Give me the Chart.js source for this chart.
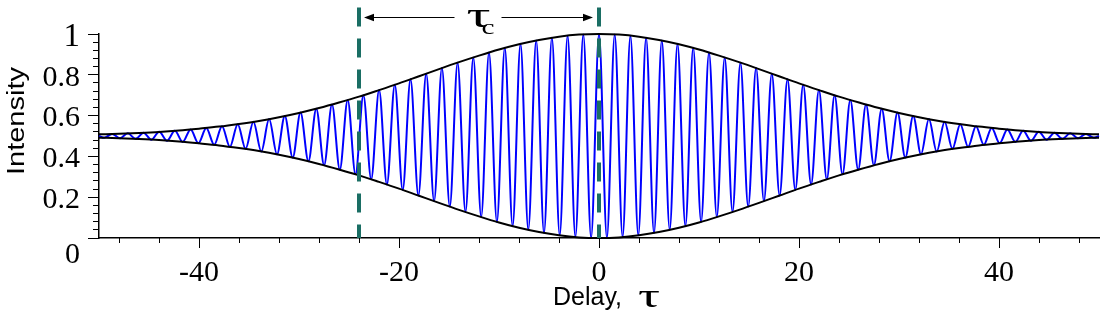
<!DOCTYPE html>
<html>
<head>
<meta charset="utf-8">
<script src="https://cdn.jsdelivr.net/npm/chart.js@4/dist/chart.umd.min.js"></script>
<style>
html,body{margin:0;padding:0;background:#fff;}
#wrap{width:1106px;height:320px;position:relative;}
</style>
</head>
<body>
<div id="wrap"><canvas id="c" width="1106" height="320"></canvas></div>
<script>
// ---- axis ticks ----
const delayTicksMajor = [-40, -20, 0, 20, 40];
const delayTickLabels = ['-40', '-20', '0', '20', '40'];
const delayTicksMinor = [-48, -44, -40, -36, -32, -28, -24, -20, -16, -12, -8, -4, 0, 4, 8, 12, 16, 20, 24, 28, 32, 36, 40, 44, 48];
const intensityTicksMajor = [0, 0.2, 0.4, 0.6, 0.8, 1];
const intensityTickLabels = ['0', '0.2', '0.4', '0.6', '0.8', '1'];
const intensityTicksMinor = [0, 0.04, 0.08, 0.12, 0.16, 0.2, 0.24, 0.28, 0.32, 0.36, 0.4, 0.44, 0.48, 0.52, 0.56, 0.6, 0.64, 0.68, 0.72, 0.76, 0.8, 0.84, 0.88, 0.92, 0.96, 1];

// ---- envelope (black) ----
const envelopeDelay = [-50, -48, -46, -44, -42, -40, -38, -36, -34, -32, -30, -28, -26, -24, -22, -20, -18, -16, -14, -12, -10, -8, -6, -4, -2, 0, 2, 4, 6, 8, 10, 12, 14, 16, 18, 20, 22, 24, 26, 28, 30, 32, 34, 36, 38, 40, 42, 44, 46, 48, 50];
const envelopeUpper = [0.508, 0.511, 0.515, 0.520, 0.527, 0.536, 0.546, 0.559, 0.574, 0.592, 0.613, 0.637, 0.664, 0.693, 0.725, 0.758, 0.793, 0.828, 0.862, 0.894, 0.924, 0.950, 0.971, 0.987, 0.997, 1.000, 0.997, 0.987, 0.971, 0.950, 0.924, 0.894, 0.862, 0.828, 0.793, 0.758, 0.725, 0.693, 0.664, 0.637, 0.613, 0.592, 0.574, 0.559, 0.546, 0.536, 0.527, 0.520, 0.515, 0.511, 0.508];
const envelopeLower = [0.492, 0.489, 0.485, 0.480, 0.473, 0.464, 0.454, 0.441, 0.426, 0.408, 0.387, 0.363, 0.336, 0.307, 0.275, 0.242, 0.207, 0.172, 0.138, 0.106, 0.076, 0.050, 0.029, 0.013, 0.003, 0.000, 0.003, 0.013, 0.029, 0.050, 0.076, 0.106, 0.138, 0.172, 0.207, 0.242, 0.275, 0.307, 0.336, 0.363, 0.387, 0.408, 0.426, 0.441, 0.454, 0.464, 0.473, 0.480, 0.485, 0.489, 0.492];

// ---- fringes (blue): delay and intensity at each maximum / minimum ----
const fringeDelay = [-50, -49.48, -48.69, -47.91, -47.12, -46.34, -45.55, -44.77, -43.98, -43.20, -42.41, -41.63, -40.84, -40.06, -39.27, -38.48, -37.70, -36.91, -36.13, -35.34, -34.56, -33.77, -32.99, -32.20, -31.42, -30.63, -29.85, -29.06, -28.27, -27.49, -26.70, -25.92, -25.13, -24.35, -23.56, -22.78, -21.99, -21.21, -20.42, -19.63, -18.85, -18.06, -17.28, -16.49, -15.71, -14.92, -14.14, -13.35, -12.57, -11.78, -11.00, -10.21, -9.42, -8.64, -7.85, -7.07, -6.28, -5.50, -4.71, -3.93, -3.14, -2.36, -1.57, -0.79, 0, 0.79, 1.57, 2.36, 3.14, 3.93, 4.71, 5.50, 6.28, 7.07, 7.85, 8.64, 9.42, 10.21, 11.00, 11.78, 12.57, 13.35, 14.14, 14.92, 15.71, 16.49, 17.28, 18.06, 18.85, 19.63, 20.42, 21.21, 21.99, 22.78, 23.56, 24.35, 25.13, 25.92, 26.70, 27.49, 28.27, 29.06, 29.85, 30.63, 31.42, 32.20, 32.99, 33.77, 34.56, 35.34, 36.13, 36.91, 37.70, 38.48, 39.27, 40.06, 40.84, 41.63, 42.41, 43.20, 43.98, 44.77, 45.55, 46.34, 47.12, 47.91, 48.69, 49.48, 50];
const fringeIntensity = [0.500, 0.491, 0.510, 0.489, 0.513, 0.486, 0.516, 0.482, 0.521, 0.477, 0.526, 0.471, 0.532, 0.465, 0.539, 0.457, 0.548, 0.447, 0.558, 0.437, 0.570, 0.424, 0.583, 0.410, 0.598, 0.394, 0.615, 0.376, 0.634, 0.357, 0.654, 0.335, 0.676, 0.312, 0.700, 0.288, 0.725, 0.262, 0.751, 0.236, 0.778, 0.208, 0.805, 0.181, 0.833, 0.154, 0.859, 0.128, 0.885, 0.103, 0.909, 0.079, 0.932, 0.058, 0.952, 0.040, 0.968, 0.024, 0.982, 0.013, 0.992, 0.005, 0.998, 0.001,
  1.000,
  0.001, 0.998, 0.005, 0.992, 0.013, 0.982, 0.024, 0.968, 0.040, 0.952, 0.058, 0.932, 0.079, 0.909, 0.103, 0.885, 0.128, 0.859, 0.154, 0.833, 0.181, 0.805, 0.208, 0.778, 0.236, 0.751, 0.262, 0.725, 0.288, 0.700, 0.312, 0.676, 0.335, 0.654, 0.357, 0.634, 0.376, 0.615, 0.394, 0.598, 0.410, 0.583, 0.424, 0.570, 0.437, 0.558, 0.447, 0.548, 0.457, 0.539, 0.465, 0.532, 0.471, 0.526, 0.477, 0.521, 0.482, 0.516, 0.486, 0.513, 0.489, 0.510, 0.491, 0.500];

// ---- coherence-time markers ----
const markerDelay = [-24, 0];
const markerSpan = [1.13, 0];
const arrowLevel = 1.083;

const pts = (xs, ys) => xs.map((v, i) => ({x: v, y: ys[i]}));

const TEAL = '#1a6e64';
const SANS = '"Liberation Sans", Arial, sans-serif';
const SERIF = '"Liberation Serif", "Times New Roman", serif';

function stretchedText(ctx, text, x, y, width, font) {
  ctx.save();
  ctx.font = font;
  const w = ctx.measureText(text).width;
  ctx.translate(x, y);
  ctx.scale(width / w, 1);
  ctx.textAlign = 'left';
  ctx.textBaseline = 'alphabetic';
  ctx.fillText(text, 0, 0);
  ctx.restore();
}

const overlay = {
  id: 'overlay',
  afterDraw(chart) {
    const {ctx, scales} = chart;
    const sx = scales.x, sy = scales.y;
    ctx.save();
    ctx.fillStyle = '#000';
    ctx.strokeStyle = '#000';
    // double arrow between the markers
    const xa = sx.getPixelForValue(markerDelay[0]) + 5;
    const xb = sx.getPixelForValue(markerDelay[1]) - 6;
    const ya = Math.round(sy.getPixelForValue(arrowLevel)) + 0.5;
    const mid = (xa + xb) / 2;
    ctx.lineWidth = 1.2;
    ctx.beginPath();
    ctx.moveTo(xa + 8, ya); ctx.lineTo(mid - 24, ya);
    ctx.moveTo(mid + 23, ya); ctx.lineTo(xb - 8, ya);
    ctx.stroke();
    ctx.beginPath();
    ctx.moveTo(xa, ya); ctx.lineTo(xa + 10, ya - 3.8); ctx.lineTo(xa + 10, ya + 3.8); ctx.closePath(); ctx.fill();
    ctx.beginPath();
    ctx.moveTo(xb, ya); ctx.lineTo(xb - 10, ya - 3.8); ctx.lineTo(xb - 10, ya + 3.8); ctx.closePath(); ctx.fill();
    // tau_c label
    stretchedText(ctx, 'τ', mid - 12, ya + 9, 24, '36px ' + SERIF);
    stretchedText(ctx, 'c', mid + 3, ya + 16, 13, '22px ' + SERIF);

    // y axis title
    ctx.save();
    ctx.font = '23px ' + SANS;
    const tw = ctx.measureText('Intensity').width;
    ctx.translate(18, 121);
    ctx.rotate(-Math.PI / 2);
    ctx.scale(108 / tw, 1);
    ctx.textAlign = 'center';
    ctx.textBaseline = 'middle';
    ctx.fillText('Intensity', 0, 0);
    ctx.restore();

    // x axis title
    ctx.font = '25px ' + SANS;
    ctx.textAlign = 'left';
    ctx.textBaseline = 'alphabetic';
    ctx.fillText('Delay, ', 553, 305);
    stretchedText(ctx, 'τ', 638, 307, 22, '33px ' + SERIF);
    ctx.restore();
  }
};

new Chart(document.getElementById('c').getContext('2d'), {
  type: 'line',
  data: {
    datasets: [
      {label: 'marker1', data: pts([markerDelay[0], markerDelay[0]], markerSpan), borderColor: TEAL, borderWidth: 4, borderDash: [19, 12], pointRadius: 0, clip: false, borderCapStyle: 'butt'},
      {label: 'marker2', data: pts([markerDelay[1], markerDelay[1]], markerSpan), borderColor: TEAL, borderWidth: 4, borderDash: [19, 12], pointRadius: 0, clip: false, borderCapStyle: 'butt'},
      {label: 'upper', data: pts(envelopeDelay, envelopeUpper), borderColor: '#000', borderWidth: 2, pointRadius: 0, cubicInterpolationMode: 'monotone', clip: 4},
      {label: 'lower', data: pts(envelopeDelay, envelopeLower), borderColor: '#000', borderWidth: 2, pointRadius: 0, cubicInterpolationMode: 'monotone', clip: 4},
      {label: 'fringes', data: pts(fringeDelay, fringeIntensity), borderColor: '#0000ff', borderWidth: 2, pointRadius: 0, cubicInterpolationMode: 'monotone', clip: 4}
    ]
  },
  options: {
    responsive: false,
    animation: false,
    events: [],
    layout: {padding: {top: 34, right: 7, bottom: 0, left: 0}},
    plugins: {legend: {display: false}, tooltip: {enabled: false}},
    scales: {
      x: {
        type: 'linear', min: -50, max: 50, position: 'bottom', weight: 1,
        afterBuildTicks: s => { s.ticks = delayTicksMajor.map(v => ({value: v})); },
        afterFit: s => { s.height = 82; },
        grid: {drawOnChartArea: false, tickLength: 10, color: '#000', tickWidth: 1},
        border: {color: '#000', width: 1.5},
        ticks: {font: {family: SERIF, size: 30, lineHeight: 1.2}, color: '#000', padding: 7, maxRotation: 0, autoSkip: false,
          callback: (v, i) => delayTickLabels[i]}
      },
      xMinor: {
        type: 'linear', min: -50, max: 50, position: 'bottom', weight: 0,
        afterBuildTicks: s => { s.ticks = delayTicksMinor.map(v => ({value: v})); },
        afterFit: s => { s.height = 0; },
        grid: {drawOnChartArea: false, tickLength: 5, color: '#000', tickWidth: 1},
        border: {display: false},
        ticks: {display: false}
      },
      y: {
        type: 'linear', min: 0, max: 1, position: 'left', weight: 1,
        afterBuildTicks: s => { s.ticks = intensityTicksMajor.map(v => ({value: v})); },
        afterFit: s => { s.width = 99; },
        grid: {drawOnChartArea: false, tickLength: 11, color: '#000', tickWidth: 1},
        border: {color: '#000', width: 1.5},
        ticks: {
          color: '#000', padding: 8, labelOffset: 3, autoSkip: false,
          font: c => ({family: SERIF, size: (c.tick && c.tick.value === 1) ? 33 : 30, lineHeight: (c.tick && c.tick.value === 0) ? 0.95 : 1.2}),
          callback: (v, i) => (i === 0 ? ['', intensityTickLabels[0]] : intensityTickLabels[i])
        }
      },
      yMinor: {
        type: 'linear', min: 0, max: 1, position: 'left', weight: 0,
        afterBuildTicks: s => { s.ticks = intensityTicksMinor.map(v => ({value: v})); },
        afterFit: s => { s.width = 0; },
        grid: {drawOnChartArea: false, tickLength: 6, color: '#000', tickWidth: 1},
        border: {display: false},
        ticks: {display: false}
      }
    }
  },
  plugins: [overlay]
});
</script>
</body>
</html>
